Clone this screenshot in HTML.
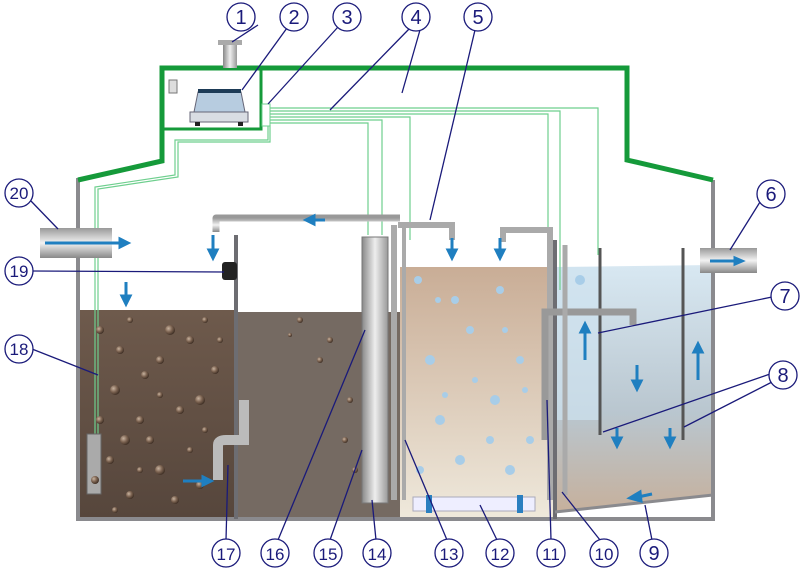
<!DOCTYPE html>
<html><head><meta charset="utf-8"><style>
html,body{margin:0;padding:0;background:#fff}
svg{display:block}
text{font-family:"Liberation Sans",sans-serif;fill:#1a1a7a;font-size:20px;text-anchor:middle}
</style></head><body>
<svg width="800" height="569" viewBox="0 0 800 569" xmlns="http://www.w3.org/2000/svg">
<defs>
<linearGradient id="g3" x1="0" y1="0" x2="0" y2="1"><stop offset="0" stop-color="#c9ad96"/><stop offset="1" stop-color="#efe9dc"/></linearGradient>
<linearGradient id="g4" x1="0" y1="0" x2="0" y2="1"><stop offset="0" stop-color="#d8e8f2"/><stop offset="0.6" stop-color="#b9c6cf"/><stop offset="1" stop-color="#c6b09c"/></linearGradient>
<linearGradient id="g1" x1="0" y1="0" x2="0" y2="1"><stop offset="0" stop-color="#6e5a4c"/><stop offset="1" stop-color="#56463c"/></linearGradient>
<linearGradient id="pipe" x1="0" y1="0" x2="1" y2="0"><stop offset="0" stop-color="#888"/><stop offset="0.5" stop-color="#eee"/><stop offset="1" stop-color="#999"/></linearGradient>
<linearGradient id="pipeh" x1="0" y1="0" x2="0" y2="1"><stop offset="0" stop-color="#999"/><stop offset="0.5" stop-color="#f2f2f2"/><stop offset="1" stop-color="#888"/></linearGradient>
<radialGradient id="ball" cx="0.35" cy="0.35" r="0.7"><stop offset="0" stop-color="#c9b4a0"/><stop offset="0.5" stop-color="#7d6452"/><stop offset="1" stop-color="#3b2c22"/></radialGradient>
</defs>
<rect x="79" y="310" width="157" height="209" fill="url(#g1)"/>
<rect x="238" y="312" width="162" height="207" fill="#756a62"/>
<rect x="400" y="267" width="155" height="252" fill="url(#g3)"/>
<polygon points="555,267 713,265 713,495 555,512" fill="url(#g4)"/>
<polygon points="555,267 600,267 600,420 555,420" fill="#cfe2ef" opacity="0.7"/>
<path d="M78,178 V519 H713 V180" fill="none" stroke="#8a8a8e" stroke-width="4"/>
<line x1="236" y1="235" x2="236" y2="519" stroke="#6d6d72" stroke-width="4"/>
<line x1="555" y1="240" x2="555" y2="519" stroke="#6d6d72" stroke-width="4"/>
<line x1="600" y1="248" x2="600" y2="435" stroke="#555" stroke-width="3"/>
<line x1="683" y1="248" x2="683" y2="440" stroke="#555" stroke-width="3"/>
<line x1="555" y1="512" x2="713" y2="495" stroke="#8a8a8e" stroke-width="3"/>
<path d="M78,180 L162,161 V68 H627 V160 L713,180" fill="none" stroke="#159a3a" stroke-width="5"/>
<rect x="163" y="69" width="98" height="60" fill="none" stroke="#159a3a" stroke-width="3"/>
<rect x="223" y="43" width="14" height="25" fill="url(#pipe)"/><rect x="218" y="40" width="24" height="5" fill="#aaa"/>
<path d="M198,92 H241 L245,112 H194 Z" fill="#b7cce0" stroke="#667"/>
<rect x="190" y="112" width="58" height="10" fill="#d9dde3" stroke="#667"/>
<rect x="198" y="89" width="43" height="4" fill="#1d3b57"/>
<rect x="195" y="122" width="5" height="4" fill="#222"/><rect x="238" y="122" width="5" height="4" fill="#222"/>
<rect x="169" y="80" width="8" height="13" fill="#ddd" stroke="#777"/>
<g fill="none" stroke="#6ecf8e" stroke-width="1.2">
<path d="M266,108 H598 V255"/><path d="M266,111 H560 V290"/><path d="M266,114 H548 V300"/>
<path d="M266,117 H410 V240"/><path d="M266,120 H382 V235"/><path d="M266,123 H368 V235"/>
<path d="M268,125 V140 H175 V175 L95,187 V470"/>
<path d="M270,125 V142 H178 V177 L98,189 V470"/>
</g>
<rect x="262" y="104" width="8" height="22" fill="#fff" stroke="#6ecf8e"/>
<path d="M400,218 H216 V232" fill="none" stroke="url(#pipeh)" stroke-width="7" stroke-linejoin="round"/>
<path d="M394,225 V500" stroke="#aaa" stroke-width="6"/><path d="M404,225 V500" stroke="#aaa" stroke-width="4"/>
<path d="M398,225 H452 V240" fill="none" stroke="#aaa" stroke-width="6"/>
<path d="M503,242 V230 H550 V500" fill="none" stroke="#aaa" stroke-width="6"/>
<path d="M545,440 V312 H633 V325" fill="none" stroke="#999" stroke-width="7"/>
<path d="M565,245 V495" stroke="#aaa" stroke-width="5"/>
<rect x="362" y="237" width="26" height="266" fill="url(#pipe)" stroke="#777"/>
<rect x="413" y="497" width="122" height="14" fill="#eef" stroke="#aab"/>
<rect x="426" y="495" width="6" height="18" fill="#2a7fc0"/><rect x="517" y="495" width="6" height="18" fill="#2a7fc0"/>
<path d="M218,480 V445 Q218,440 226,440 H244 V400" fill="none" stroke="#bbb" stroke-width="10"/>
<rect x="222" y="262" width="15" height="18" rx="3" fill="#222"/>
<rect x="87" y="434" width="14" height="60" fill="#aaa" stroke="#666"/>
<rect x="40" y="228" width="72" height="30" fill="url(#pipeh)"/>
<rect x="700" y="248" width="57" height="25" fill="url(#pipeh)"/>
<g fill="url(#ball)"><circle cx="100" cy="330" r="4"/><circle cx="130" cy="320" r="3"/><circle cx="160" cy="360" r="4"/><circle cx="115" cy="390" r="5"/><circle cx="190" cy="340" r="4"/><circle cx="140" cy="420" r="4"/><circle cx="200" cy="400" r="5"/><circle cx="110" cy="460" r="4"/><circle cx="160" cy="470" r="5"/><circle cx="190" cy="450" r="3"/><circle cx="130" cy="495" r="4"/><circle cx="175" cy="500" r="4"/><circle cx="205" cy="320" r="3"/><circle cx="150" cy="440" r="4"/><circle cx="95" cy="480" r="4"/><circle cx="120" cy="350" r="4"/><circle cx="170" cy="330" r="5"/><circle cx="145" cy="375" r="4"/><circle cx="180" cy="410" r="4"/><circle cx="100" cy="420" r="4"/><circle cx="125" cy="440" r="5"/><circle cx="215" cy="370" r="4"/><circle cx="205" cy="430" r="3"/><circle cx="140" cy="470" r="3"/><circle cx="200" cy="485" r="4"/><circle cx="115" cy="510" r="3"/><circle cx="220" cy="340" r="3"/><circle cx="160" cy="395" r="3"/>
<circle cx="300" cy="320" r="3"/><circle cx="330" cy="340" r="3"/><circle cx="350" cy="400" r="3"/><circle cx="320" cy="360" r="3"/><circle cx="290" cy="335" r="2"/><circle cx="345" cy="440" r="3"/><circle cx="355" cy="470" r="3"/></g>
<g fill="#a8cde8"><circle cx="418" cy="280" r="4"/><circle cx="455" cy="300" r="4"/><circle cx="500" cy="290" r="4"/><circle cx="430" cy="360" r="5"/><circle cx="470" cy="330" r="4"/><circle cx="520" cy="360" r="4"/><circle cx="440" cy="420" r="5"/><circle cx="495" cy="400" r="5"/><circle cx="460" cy="460" r="5"/><circle cx="510" cy="470" r="5"/><circle cx="420" cy="470" r="4"/><circle cx="530" cy="440" r="4"/><circle cx="580" cy="280" r="5"/><circle cx="438" cy="300" r="3"/><circle cx="475" cy="380" r="3"/><circle cx="505" cy="330" r="3"/><circle cx="445" cy="395" r="3"/><circle cx="490" cy="440" r="4"/><circle cx="525" cy="390" r="3"/></g>
<g stroke="#1f7fc0" stroke-width="3" fill="#1f7fc0">
<path d="M45,243 H120"/><path d="M120,239 L128,243 L120,247Z"/>
<path d="M710,261 H735"/><path d="M735,258 L742,261 L735,264Z"/>
<path d="M126,282 V298"/><path d="M122,296 L126,304 L130,296Z"/>
<path d="M213,235 V252"/><path d="M209,250 L213,258 L217,250Z"/>
<path d="M452,238 V252"/><path d="M448,250 L452,258 L456,250Z"/>
<path d="M500,238 V252"/><path d="M496,250 L500,258 L504,250Z"/>
<path d="M325,220 H312"/><path d="M314,216 L306,220 L314,224Z"/>
<path d="M183,481 H205"/><path d="M203,477 L211,481 L203,485Z"/>
<path d="M585,360 V330"/><path d="M581,332 L585,324 L589,332Z"/>
<path d="M698,380 V350"/><path d="M694,352 L698,344 L702,352Z"/>
<path d="M637,365 V383"/><path d="M633,381 L637,389 L641,381Z"/>
<path d="M617,428 V440"/><path d="M613,438 L617,446 L621,438Z"/>
<path d="M670,428 V440"/><path d="M666,438 L670,446 L674,438Z"/>
<path d="M652,494 L638,497"/><path d="M640,492 L630,498 L641,501Z"/>
</g>
<g stroke="#1a1a7a" stroke-width="1.3" fill="none">
<path d="M232,42 L258,25"/><path d="M242,90 L287,28"/><path d="M268,104 L338,27"/><path d="M330,110 L410,28"/><path d="M402,93 L420,30"/>
<path d="M430,220 L475,30"/><path d="M730,250 L760,202"/><path d="M598,333 L772,297"/>
<path d="M603,432 L770,374"/><path d="M684,427 L772,382"/><path d="M645,505 L652,540"/>
<path d="M562,492 L600,540"/><path d="M547,400 L551,540"/><path d="M480,505 L497,540"/>
<path d="M405,440 L447,540"/><path d="M372,500 L376,540"/><path d="M362,450 L330,540"/>
<path d="M365,330 L278,540"/><path d="M228,465 L226,540"/><path d="M32,349 L98,375"/>
<path d="M32,271 L224,272"/><path d="M30,200 L58,229"/>
</g>
<g fill="#fff" stroke="#1a1a7a" stroke-width="1.3">
<circle cx="241" cy="17" r="14"/><circle cx="294" cy="17" r="14"/><circle cx="347" cy="17" r="14"/><circle cx="416" cy="17" r="14"/><circle cx="478" cy="17" r="14"/>
<circle cx="771" cy="194" r="14"/><circle cx="785" cy="296" r="14"/><circle cx="783" cy="375" r="14"/>
<circle cx="654" cy="553" r="14"/><circle cx="604" cy="553" r="14"/><circle cx="551" cy="553" r="14"/><circle cx="500" cy="553" r="14"/><circle cx="449" cy="553" r="14"/><circle cx="377" cy="553" r="14"/><circle cx="328" cy="553" r="14"/><circle cx="275" cy="553" r="14"/><circle cx="226" cy="553" r="14"/>
<circle cx="19" cy="349" r="14"/><circle cx="19" cy="271" r="14"/><circle cx="19" cy="193" r="14"/>
</g>
<g>
<text x="241" y="24">1</text><text x="294" y="24">2</text><text x="347" y="24">3</text><text x="416" y="24">4</text><text x="478" y="24">5</text>
<text x="771" y="201">6</text><text x="785" y="303">7</text><text x="783" y="382">8</text>
<text x="654" y="560">9</text><text x="604" y="560" style="font-size:17px">10</text><text x="551" y="560" style="font-size:17px">11</text><text x="500" y="560" style="font-size:17px">12</text><text x="449" y="560" style="font-size:17px">13</text><text x="377" y="560" style="font-size:17px">14</text><text x="328" y="560" style="font-size:17px">15</text><text x="275" y="560" style="font-size:17px">16</text><text x="226" y="560" style="font-size:17px">17</text>
<text x="19" y="355" style="font-size:17px">18</text><text x="19" y="277" style="font-size:17px">19</text><text x="19" y="199" style="font-size:17px">20</text>
</g>
</svg>
</body></html>
